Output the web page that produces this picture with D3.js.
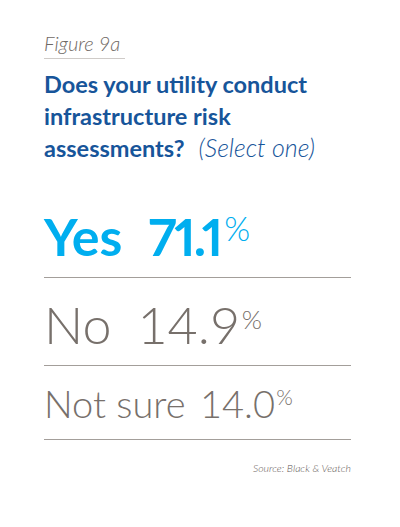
<!DOCTYPE html>
<html>
<head>
<meta charset="utf-8">
<script src="https://cdn.jsdelivr.net/npm/d3@7"></script>
<style>
  body { margin: 0; background: #fff; }
  svg { display: block; font-family: Lato, "Open Sans", sans-serif; }
</style>
</head>
<body>
<div id="chart"></div>
<script>
let figureLabel = 'Figure 9a';
let titleLines = ['Does your utility conduct', 'infrastructure risk', 'assessments?'];
let titleNote = '(Select one)';
let categories = ['Yes', 'No', 'Not sure'];
let values = [71.1, 14.9, 14.0];
let source = 'Source: Black & Veatch';

let width = 400, height = 527;
let left = 44, right = 351;

// per-row styling
let rowSize = [52, 52, 38];
let rowWeight = [700, 300, 300];
let rowColor = ['#00aeef', '#77706b', '#77706b'];
let rowGap = ['0.5em', '0.5em', '0.38em'];
let rowTrack = ['-0.04em', '0', '0'];
let rowNums = ['proportional-nums', 'normal', 'normal'];
let pctSize = [0.64, 0.5, 0.56];
let pctShift = [0.28, 0.28, 0.33];
let pctGap = ['0.1em', '0.06em', '0.06em'];

let svg = d3.select('#chart').append('svg')
  .attr('width', width)
  .attr('height', height)

// figure label
svg.append('text')
  .attr('x', left).attr('y', 51)
  .style('font-size', '20px')
  .style('font-style', 'italic')
  .style('font-weight', 300)
  .style('fill', '#6f6964')
  .text(figureLabel)

svg.append('line')
  .attr('x1', left).attr('x2', 125)
  .attr('y1', 58.5).attr('y2', 58.5)
  .style('stroke', '#cfcbc8')

// title
let title = svg.append('g')
title.selectAll('text')
  .data(titleLines)
  .enter().append('text')
  .attr('x', left)
  .attr('y', (_, i) => 93 + i * 32)
  .style('font-size', '23.5px')
  .style('font-weight', 700)
  .style('fill', '#17559a')
  .text(d => d)
  .filter((_, i) => i == titleLines.length - 1)
  .append('tspan')
  .attr('dx', 14)
  .style('font-size', '25px')
  .style('font-weight', 300)
  .style('font-style', 'italic')
  .text(titleNote)

// rows: each row takes its font size plus a gap
let rowTops = [189]
rowSize.forEach((s, i) => rowTops.push(rowTops[i] + s + 36))
let y = d3.scaleOrdinal().domain(categories).range(rowTops.slice(1))
let fmt = d3.format('.1f')

let rows = svg.selectAll('g.row')
  .data(categories)
  .enter().append('g')
  .attr('class', 'row')

rows.append('line')
  .attr('x1', left).attr('x2', right)
  .attr('y1', d => y(d) + 0.5).attr('y2', d => y(d) + 0.5)
  .style('stroke', '#a39e9a')
  .style('stroke-width', 1.2)

let txt = rows.append('text')
  .attr('x', left)
  .attr('y', d => y(d) - 21)
  .style('font-size', (_, i) => rowSize[i] + 'px')
  .style('font-weight', (_, i) => rowWeight[i])
  .style('fill', (_, i) => rowColor[i])

txt.append('tspan').text(d => d)
txt.append('tspan')
  .attr('dx', (_, i) => rowGap[i])
  .style('letter-spacing', (_, i) => rowTrack[i])
  .style('font-variant-numeric', (_, i) => rowNums[i])
  .text((_, i) => fmt(values[i]))
txt.append('tspan')
  .attr('dx', (_, i) => pctGap[i])
  .attr('dy', (_, i) => -rowSize[i] * pctShift[i])
  .style('font-size', (_, i) => rowSize[i] * pctSize[i] + 'px')
  .style('font-weight', 300)
  .style('letter-spacing', 0)
  .text('%')

// source
svg.append('text')
  .attr('x', right).attr('y', 472)
  .attr('text-anchor', 'end')
  .style('font-size', '10.5px')
  .style('font-style', 'italic')
  .style('font-weight', 300)
  .style('fill', '#5f5955')
  .text(source)
</script>
</body>
</html>
